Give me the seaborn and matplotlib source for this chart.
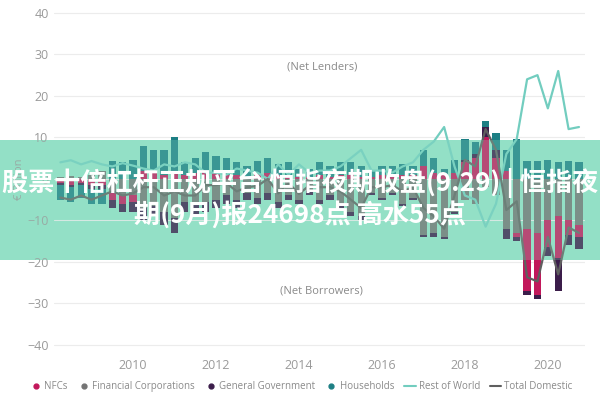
import numpy as np
import pandas as pd
import matplotlib
matplotlib.use("Agg")
import matplotlib.pyplot as plt
from matplotlib.lines import Line2D
from matplotlib.patches import Rectangle
import seaborn as sns

# quarterly periods, 2008Q2 .. 2020Q4
years = [2008] * 3 + [y for y in range(2009, 2021) for _ in range(4)]
quarters = [2, 3, 4] + [1, 2, 3, 4] * 12

# net lending (+) / borrowing (-) by sector, EUR billion
fin_corps = [0.5, 0.6, 0.4,
             1.0, 2.0, -3.5, -4.0,
             -4.0, -7.0, -6.5, -8.0,
             -9.5, -5.5, -6.0, -5.5,
             -5.0, -4.0, -5.0, -3.5,
             -4.5, -3.5, -5.5, -4.0,
             -5.0, -3.0, -5.0, -4.0,
             -6.0, -8.0, -9.0, -3.5,
             -4.5, -3.5, -6.0, -4.5,
             -13.5, -13.0, -14.0, -8.0,
             -5.0, -6.0, -2.0, -4.0,
             -12.0, -13.0, -12.0, -13.0,
             -10.0, -9.0, -10.0, -11.0]
nfcs = [-1.0, -1.5, -1.0,
        -1.5, -1.5, -1.5, -2.0,
        -1.5, 2.0, 1.5, 1.0,
        2.0, 1.0, 1.5, 2.0,
        1.5, 1.0, 1.0, 0.5,
        1.3, 1.5, 1.0, 1.0,
        0.4, 0.4, 1.0, 0.5,
        1.0, 1.0, 0.5, 0.5,
        1.0, 1.0, 1.0, 1.0,
        3.0, 1.5, 1.0, 1.5,
        4.0, 5.0, 10.0, 5.0,
        2.0, -1.0, -15.0, -15.0,
        -6.5, -10.0, -3.5, -3.0]
gen_gov = [-0.5, -0.5, -0.5,
           -1.0, -1.0, -2.0, -2.0,
           -2.5, -3.0, -2.5, -3.0,
           -3.5, -2.5, -3.0, -2.5,
           -2.0, -2.0, -2.0, -1.5,
           -1.5, -1.5, -1.5, -1.0,
           -1.0, -1.0, -1.0, -1.0,
           -1.0, -1.0, -1.0, -0.5,
           -0.5, -0.5, -0.5, -0.5,
           -0.5, -1.0, -0.5, -0.5,
           0.6, 1.0, 2.5, 2.0,
           -2.5, -1.0, -1.0, -1.0,
           -2.0, -8.0, -2.5, -3.0]
households = [-3.5, -3.5, -3.0,
              -3.5, -3.5, 4.3, 4.0,
              4.5, 6.0, 5.5, 6.0,
              8.0, 3.0, 3.5, 4.5,
              4.0, 4.0, 3.0, 2.5,
              3.0, 3.5, 2.5, 3.0,
              2.0, 2.0, 3.0, 2.5,
              3.0, 3.0, 2.5, 1.5,
              2.0, 2.0, 2.5, 2.0,
              4.0, 3.5, 1.5, 3.0,
              5.0, 3.0, 1.5, 4.0,
              5.0, 9.6, 4.3, 4.3,
              4.5, 4.0, 4.3, 4.0]
rest_of_world = [4.0, 4.5, 3.5,
                 4.3, 3.5, 3.0, 3.8,
                 3.2, 2.5, 2.0, 3.5,
                 3.0, 4.0, 3.5, 1.5,
                 1.5, 1.0, 2.5, 2.0,
                 1.5, 0.0, 3.5, 1.0,
                 3.5, 1.5, 2.0, 2.0,
                 3.0, 5.0, 7.0, 2.0,
                 2.0, 1.5, 3.0, 4.0,
                 7.0, 9.0, 12.5, 3.0,
                 -4.0, -5.0, -11.5, -6.0,
                 6.0, 9.6, 24.0, 25.0,
                 17.0, 26.0, 12.0, 12.5]
total_domestic = [-4.5, -5.0, -4.0,
                  -5.0, -4.0, -3.0, -4.0,
                  -3.5, -2.0, -2.0, -4.0,
                  -3.0, -4.0, -4.0, -1.5,
                  -1.5, -1.0, -3.0, -2.0,
                  -1.7, 0.0, -3.5, -1.0,
                  -3.6, -1.6, -2.0, -2.0,
                  -3.0, -5.0, -7.0, -2.0,
                  -2.0, -1.5, -3.0, -2.0,
                  -7.0, -9.0, -12.0, -4.0,
                  4.6, 3.0, 12.0, 7.0,
                  -7.5, -5.4, -23.7, -24.7,
                  -14.0, -23.0, -11.7, -13.0]

sector_names = ["NFCs", "Financial Corporations", "General Government", "Households"]
sector_colors = {"NFCs": "#c2185b", "Financial Corporations": "#747474",
                 "General Government": "#3b1d4a", "Households": "#1d7f84"}
row_color = "#72cdbf"
td_color = "#5f5f5f"

banner_text_1 = "股票十倍杠杆正规平台 恒指夜期收盘(9.29) | 恒指夜"
banner_text_2 = "期(9月)报24698点 高水55点"


def main() -> None:
    sns.set_theme(style="white")
    plt.rcParams['font.family'] = ['Open Sans', 'DejaVu Sans']

    x = np.array(years) + (np.array(quarters) - 1) / 4.0
    df = pd.DataFrame({"x": x, "Rest of World": rest_of_world,
                       "Total Domestic": total_domestic})

    fig = plt.figure(figsize=(6, 4), dpi=100)
    fig.patch.set_facecolor("white")
    ax = fig.add_axes([0.0903, 0.117, 0.885, 0.8715])
    ax.set_facecolor("none")

    # mint banner under the chart
    fig.patches.append(Rectangle((0, 0.35), 1, 0.30, transform=fig.transFigure,
                                 facecolor="#93e0c6", edgecolor="none", zorder=-1))

    # stacked bars: FC nearest zero, then NFCs, General Government, Households
    stack = [("Financial Corporations", fin_corps), ("NFCs", nfcs),
             ("General Government", gen_gov), ("Households", households)]
    pos_base = np.zeros(len(x))
    neg_base = np.zeros(len(x))
    for name, vals in stack:
        v = np.array(vals)
        pos = np.clip(v, 0, None)
        neg = np.clip(v, None, 0)
        ax.bar(x, pos, bottom=pos_base, width=0.175, color=sector_colors[name], linewidth=0, zorder=2)
        ax.bar(x, neg, bottom=neg_base, width=0.175, color=sector_colors[name], linewidth=0, zorder=2)
        pos_base += pos
        neg_base += neg

    sns.lineplot(data=df, x="x", y="Rest of World", color=row_color, linewidth=1.6, ax=ax, zorder=3)
    sns.lineplot(data=df, x="x", y="Total Domestic", color=td_color, linewidth=1.6, ax=ax, zorder=3)

    ax.set_xlim(2008.1, 2020.9)
    ax.set_ylim(-42, 42)
    ax.set_yticks(range(-40, 41, 10))
    ax.set_xticks(range(2010, 2021, 2))
    ax.yaxis.grid(True, color="#ececec", linewidth=0.8)
    ax.set_axisbelow(True)
    for s in ax.spines.values():
        s.set_visible(False)
    ax.tick_params(length=0, labelsize=9, labelcolor="#9a9a9a", pad=4)
    ax.set_xlabel("")
    ax.set_ylabel("€ Billion", fontsize=8, color="#9a9a9a")
    ax.yaxis.set_label_coords(-0.055, 0.5)

    ax.text(2014.55, 27, "(Net Lenders)", ha="center", va="center", fontsize=8, color="#8a8a8a")
    ax.text(2014.55, -27, "(Net Borrowers)", ha="center", va="center", fontsize=8, color="#8a8a8a")

    handles = [Line2D([], [], marker="o", linestyle="none", markersize=3.5,
                      color=sector_colors[n], label=n) for n in sector_names]
    handles += [Line2D([], [], color=row_color, linewidth=1.5, label="Rest of World"),
                Line2D([], [], color=td_color, linewidth=1.5, label="Total Domestic")]
    leg = fig.legend(handles=handles, loc="center", bbox_to_anchor=(0.502, 0.033), ncol=6,
                     frameon=False, fontsize=7, handlelength=1.2, handletextpad=0.3,
                     columnspacing=1.0)
    for t in leg.get_texts():
        t.set_color("#8a8a8a")

    # light mint veil over the banner band and the white banner text
    fig.patches.append(Rectangle((0, 0.35), 1, 0.30, transform=fig.transFigure,
                                 facecolor="#93e0c6", edgecolor="none", alpha=0.25, zorder=10))
    cjk = ["Noto Sans CJK SC", "DejaVu Sans"]
    fig.text(0.5, 0.5425, banner_text_1, ha="center", va="center", fontsize=18.8,
             fontweight="bold", color="white", family=cjk, zorder=11)
    fig.text(0.5, 0.4625, banner_text_2, ha="center", va="center", fontsize=18.8,
             fontweight="bold", color="white", family=cjk, zorder=11)

    fig.savefig("out.png", dpi=100)


if __name__ == "__main__":
    main()
